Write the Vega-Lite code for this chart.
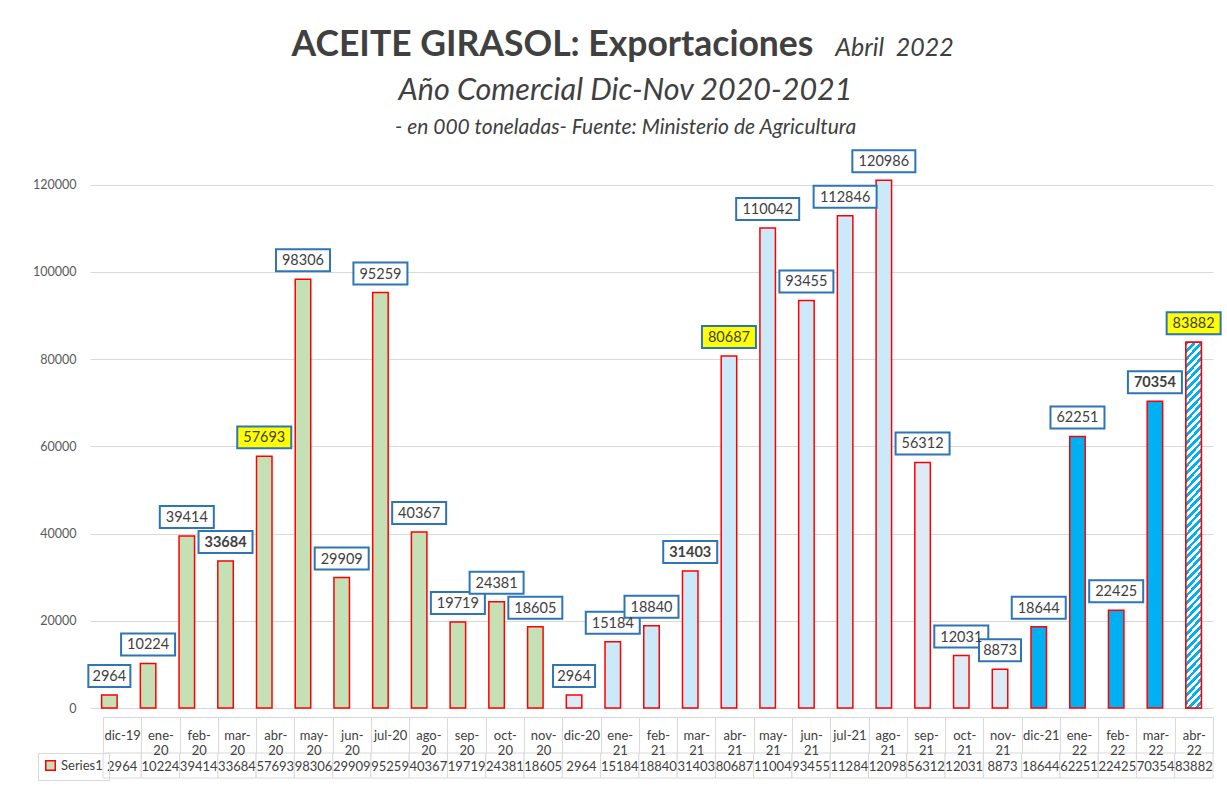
{
"$schema": "https://vega.github.io/schema/vega-lite/v6.json",
"width": 1123,
"height": 567,
"autosize": "none",
"padding": {"left": 90, "top": 141, "right": 14, "bottom": 85},
"background": "white",
"config": {"view": {"stroke": null}, "font": "Lato"},
"title": {
  "text": "Año Comercial Dic-Nov 2020-2021",
  "subtitle": "\u00a0\u00a0\u00a0\u00a0\u00a0\u00a0\u00a0\u00a0- en 000 toneladas- Fuente: Ministerio de Agricultura",
  "anchor": "middle", "frame": "group", "dx": -26, "offset": -111,
  "font": "Lato", "fontSize": 30.5, "fontStyle": "italic", "fontWeight": "normal", "color": "#404040",
  "subtitleFont": "Lato", "subtitleFontSize": 21, "subtitleFontStyle": "italic", "subtitleColor": "#404040", "subtitlePadding": 11
},
"data": {"values": [
  {"mes": "dic-19", "valor": 2964, "grupo": "g1"},
  {"mes": "ene-20", "valor": 10224, "grupo": "g1"},
  {"mes": "feb-20", "valor": 39414, "grupo": "g1"},
  {"mes": "mar-20", "valor": 33684, "grupo": "g1"},
  {"mes": "abr-20", "valor": 57693, "grupo": "g1"},
  {"mes": "may-20", "valor": 98306, "grupo": "g1"},
  {"mes": "jun-20", "valor": 29909, "grupo": "g1"},
  {"mes": "jul-20", "valor": 95259, "grupo": "g1"},
  {"mes": "ago-20", "valor": 40367, "grupo": "g1"},
  {"mes": "sep-20", "valor": 19719, "grupo": "g1"},
  {"mes": "oct-20", "valor": 24381, "grupo": "g1"},
  {"mes": "nov-20", "valor": 18605, "grupo": "g1"},
  {"mes": "dic-20", "valor": 2964, "grupo": "g2"},
  {"mes": "ene-21", "valor": 15184, "grupo": "g3"},
  {"mes": "feb-21", "valor": 18840, "grupo": "g3"},
  {"mes": "mar-21", "valor": 31403, "grupo": "g3"},
  {"mes": "abr-21", "valor": 80687, "grupo": "g3"},
  {"mes": "may-21", "valor": 110042, "grupo": "g3"},
  {"mes": "jun-21", "valor": 93455, "grupo": "g3"},
  {"mes": "jul-21", "valor": 112846, "grupo": "g3"},
  {"mes": "ago-21", "valor": 120986, "grupo": "g3"},
  {"mes": "sep-21", "valor": 56312, "grupo": "g2"},
  {"mes": "oct-21", "valor": 12031, "grupo": "g2"},
  {"mes": "nov-21", "valor": 8873, "grupo": "g2"},
  {"mes": "dic-21", "valor": 18644, "grupo": "g4"},
  {"mes": "ene-22", "valor": 62251, "grupo": "g4"},
  {"mes": "feb-22", "valor": 22425, "grupo": "g4"},
  {"mes": "mar-22", "valor": 70354, "grupo": "g4"},
  {"mes": "abr-22", "valor": 83882, "grupo": "g5"}
]},
"layer": [
  {
    "encoding": {
      "x": {"field": "mes", "type": "nominal",
        "scale": {"domain": ["dic-19","ene-20","feb-20","mar-20","abr-20","may-20","jun-20","jul-20","ago-20","sep-20","oct-20","nov-20","dic-20","ene-21","feb-21","mar-21","abr-21","may-21","jun-21","jul-21","ago-21","sep-21","oct-21","nov-21","dic-21","ene-22","feb-22","mar-22","abr-22"], "paddingInner": 0, "paddingOuter": 0},
        "axis": null},
      "y": {"field": "valor", "type": "quantitative",
        "scale": {"domain": [0, 130000], "nice": false},
        "axis": {"values": [0, 20000, 40000, 60000, 80000, 100000, 120000], "format": "d", "grid": true, "gridColor": "#D9D9D9", "gridWidth": 1,
          "domain": false, "ticks": false, "labelFont": "Lato", "labelFontSize": 12.5, "labelColor": "#595959", "labelPadding": 14,
          "title": "ACEITE GIRASOL: Exportaciones", "titleAngle": 0, "titleX": 462, "titleY": -86, "titleAlign": "center", "titleBaseline": "alphabetic",
          "titleFont": "Lato", "titleFontSize": 35.5, "titleFontWeight": "bold", "titleColor": "#404040"}}
    },
    "layer": [
      {
        "mark": {"type": "bar", "width": {"band": 0.4}, "strokeWidth": 1.5},
        "encoding": {
          "fill": {"field": "grupo", "type": "nominal",
            "scale": {"domain": ["g1","g2","g3","g4","g5"], "range": ["#C5E0B4","#DEEBF7","#CCE9FA","#00B0F0","#FFFFFF"]},
            "legend": null},
          "stroke": {"datum": "Series1", "type": "nominal",
            "scale": {"domain": ["Series1"], "range": ["#FF0000"]},
            "legend": {"orient": "none", "legendX": -52, "legendY": 612, "title": null, "symbolType": "square", "symbolSize": 90,
              "symbolStrokeWidth": 1.5, "symbolFillColor": "#C5E0B4", "labelFont": "Lato", "labelFontSize": 13, "labelColor": "#404040",
              "labelOffset": 4, "padding": 6, "strokeColor": "#D9D9D9",
              "encode": {"symbols": {"update": {"fill": {"value": "#C5E0B4"}, "stroke": {"value": "#FF0000"}, "strokeWidth": {"value": 1.5}}}}}}
        }
      },
      {
        "transform": [{"filter": "datum.grupo == 'g5'"}],
        "mark": {"type": "bar", "width": {"band": 0.4}, "stroke": "#FF0000", "strokeWidth": 1.5,
          "fill": {"gradient": "linear", "x1": 0, "y1": 0, "x2": 0.0465, "y2": 1.0426, "stops": [
            {"offset":0,"color":"#00B0F0"},{"offset":0.01,"color":"#00B0F0"},{"offset":0.01,"color":"#FFFFFF"},{"offset":0.02,"color":"#FFFFFF"},
            {"offset":0.02,"color":"#00B0F0"},{"offset":0.03,"color":"#00B0F0"},{"offset":0.03,"color":"#FFFFFF"},{"offset":0.04,"color":"#FFFFFF"},
            {"offset":0.04,"color":"#00B0F0"},{"offset":0.05,"color":"#00B0F0"},{"offset":0.05,"color":"#FFFFFF"},{"offset":0.06,"color":"#FFFFFF"},
            {"offset":0.06,"color":"#00B0F0"},{"offset":0.07,"color":"#00B0F0"},{"offset":0.07,"color":"#FFFFFF"},{"offset":0.08,"color":"#FFFFFF"},
            {"offset":0.08,"color":"#00B0F0"},{"offset":0.09,"color":"#00B0F0"},{"offset":0.09,"color":"#FFFFFF"},{"offset":0.10,"color":"#FFFFFF"},
            {"offset":0.10,"color":"#00B0F0"},{"offset":0.11,"color":"#00B0F0"},{"offset":0.11,"color":"#FFFFFF"},{"offset":0.12,"color":"#FFFFFF"},
            {"offset":0.12,"color":"#00B0F0"},{"offset":0.13,"color":"#00B0F0"},{"offset":0.13,"color":"#FFFFFF"},{"offset":0.14,"color":"#FFFFFF"},
            {"offset":0.14,"color":"#00B0F0"},{"offset":0.15,"color":"#00B0F0"},{"offset":0.15,"color":"#FFFFFF"},{"offset":0.16,"color":"#FFFFFF"},
            {"offset":0.16,"color":"#00B0F0"},{"offset":0.17,"color":"#00B0F0"},{"offset":0.17,"color":"#FFFFFF"},{"offset":0.18,"color":"#FFFFFF"},
            {"offset":0.18,"color":"#00B0F0"},{"offset":0.19,"color":"#00B0F0"},{"offset":0.19,"color":"#FFFFFF"},{"offset":0.20,"color":"#FFFFFF"},
            {"offset":0.20,"color":"#00B0F0"},{"offset":0.21,"color":"#00B0F0"},{"offset":0.21,"color":"#FFFFFF"},{"offset":0.22,"color":"#FFFFFF"},
            {"offset":0.22,"color":"#00B0F0"},{"offset":0.23,"color":"#00B0F0"},{"offset":0.23,"color":"#FFFFFF"},{"offset":0.24,"color":"#FFFFFF"},
            {"offset":0.24,"color":"#00B0F0"},{"offset":0.25,"color":"#00B0F0"},{"offset":0.25,"color":"#FFFFFF"},{"offset":0.26,"color":"#FFFFFF"},
            {"offset":0.26,"color":"#00B0F0"},{"offset":0.27,"color":"#00B0F0"},{"offset":0.27,"color":"#FFFFFF"},{"offset":0.28,"color":"#FFFFFF"},
            {"offset":0.28,"color":"#00B0F0"},{"offset":0.29,"color":"#00B0F0"},{"offset":0.29,"color":"#FFFFFF"},{"offset":0.30,"color":"#FFFFFF"},
            {"offset":0.30,"color":"#00B0F0"},{"offset":0.31,"color":"#00B0F0"},{"offset":0.31,"color":"#FFFFFF"},{"offset":0.32,"color":"#FFFFFF"},
            {"offset":0.32,"color":"#00B0F0"},{"offset":0.33,"color":"#00B0F0"},{"offset":0.33,"color":"#FFFFFF"},{"offset":0.34,"color":"#FFFFFF"},
            {"offset":0.34,"color":"#00B0F0"},{"offset":0.35,"color":"#00B0F0"},{"offset":0.35,"color":"#FFFFFF"},{"offset":0.36,"color":"#FFFFFF"},
            {"offset":0.36,"color":"#00B0F0"},{"offset":0.37,"color":"#00B0F0"},{"offset":0.37,"color":"#FFFFFF"},{"offset":0.38,"color":"#FFFFFF"},
            {"offset":0.38,"color":"#00B0F0"},{"offset":0.39,"color":"#00B0F0"},{"offset":0.39,"color":"#FFFFFF"},{"offset":0.40,"color":"#FFFFFF"},
            {"offset":0.40,"color":"#00B0F0"},{"offset":0.41,"color":"#00B0F0"},{"offset":0.41,"color":"#FFFFFF"},{"offset":0.42,"color":"#FFFFFF"},
            {"offset":0.42,"color":"#00B0F0"},{"offset":0.43,"color":"#00B0F0"},{"offset":0.43,"color":"#FFFFFF"},{"offset":0.44,"color":"#FFFFFF"},
            {"offset":0.44,"color":"#00B0F0"},{"offset":0.45,"color":"#00B0F0"},{"offset":0.45,"color":"#FFFFFF"},{"offset":0.46,"color":"#FFFFFF"},
            {"offset":0.46,"color":"#00B0F0"},{"offset":0.47,"color":"#00B0F0"},{"offset":0.47,"color":"#FFFFFF"},{"offset":0.48,"color":"#FFFFFF"},
            {"offset":0.48,"color":"#00B0F0"},{"offset":0.49,"color":"#00B0F0"},{"offset":0.49,"color":"#FFFFFF"},{"offset":0.50,"color":"#FFFFFF"},
            {"offset":0.50,"color":"#00B0F0"},{"offset":0.51,"color":"#00B0F0"},{"offset":0.51,"color":"#FFFFFF"},{"offset":0.52,"color":"#FFFFFF"},
            {"offset":0.52,"color":"#00B0F0"},{"offset":0.53,"color":"#00B0F0"},{"offset":0.53,"color":"#FFFFFF"},{"offset":0.54,"color":"#FFFFFF"},
            {"offset":0.54,"color":"#00B0F0"},{"offset":0.55,"color":"#00B0F0"},{"offset":0.55,"color":"#FFFFFF"},{"offset":0.56,"color":"#FFFFFF"},
            {"offset":0.56,"color":"#00B0F0"},{"offset":0.57,"color":"#00B0F0"},{"offset":0.57,"color":"#FFFFFF"},{"offset":0.58,"color":"#FFFFFF"},
            {"offset":0.58,"color":"#00B0F0"},{"offset":0.59,"color":"#00B0F0"},{"offset":0.59,"color":"#FFFFFF"},{"offset":0.60,"color":"#FFFFFF"},
            {"offset":0.60,"color":"#00B0F0"},{"offset":0.61,"color":"#00B0F0"},{"offset":0.61,"color":"#FFFFFF"},{"offset":0.62,"color":"#FFFFFF"},
            {"offset":0.62,"color":"#00B0F0"},{"offset":0.63,"color":"#00B0F0"},{"offset":0.63,"color":"#FFFFFF"},{"offset":0.64,"color":"#FFFFFF"},
            {"offset":0.64,"color":"#00B0F0"},{"offset":0.65,"color":"#00B0F0"},{"offset":0.65,"color":"#FFFFFF"},{"offset":0.66,"color":"#FFFFFF"},
            {"offset":0.66,"color":"#00B0F0"},{"offset":0.67,"color":"#00B0F0"},{"offset":0.67,"color":"#FFFFFF"},{"offset":0.68,"color":"#FFFFFF"},
            {"offset":0.68,"color":"#00B0F0"},{"offset":0.69,"color":"#00B0F0"},{"offset":0.69,"color":"#FFFFFF"},{"offset":0.70,"color":"#FFFFFF"},
            {"offset":0.70,"color":"#00B0F0"},{"offset":0.71,"color":"#00B0F0"},{"offset":0.71,"color":"#FFFFFF"},{"offset":0.72,"color":"#FFFFFF"},
            {"offset":0.72,"color":"#00B0F0"},{"offset":0.73,"color":"#00B0F0"},{"offset":0.73,"color":"#FFFFFF"},{"offset":0.74,"color":"#FFFFFF"},
            {"offset":0.74,"color":"#00B0F0"},{"offset":0.75,"color":"#00B0F0"},{"offset":0.75,"color":"#FFFFFF"},{"offset":0.76,"color":"#FFFFFF"},
            {"offset":0.76,"color":"#00B0F0"},{"offset":0.77,"color":"#00B0F0"},{"offset":0.77,"color":"#FFFFFF"},{"offset":0.78,"color":"#FFFFFF"},
            {"offset":0.78,"color":"#00B0F0"},{"offset":0.79,"color":"#00B0F0"},{"offset":0.79,"color":"#FFFFFF"},{"offset":0.80,"color":"#FFFFFF"},
            {"offset":0.80,"color":"#00B0F0"},{"offset":0.81,"color":"#00B0F0"},{"offset":0.81,"color":"#FFFFFF"},{"offset":0.82,"color":"#FFFFFF"},
            {"offset":0.82,"color":"#00B0F0"},{"offset":0.83,"color":"#00B0F0"},{"offset":0.83,"color":"#FFFFFF"},{"offset":0.84,"color":"#FFFFFF"},
            {"offset":0.84,"color":"#00B0F0"},{"offset":0.85,"color":"#00B0F0"},{"offset":0.85,"color":"#FFFFFF"},{"offset":0.86,"color":"#FFFFFF"},
            {"offset":0.86,"color":"#00B0F0"},{"offset":0.87,"color":"#00B0F0"},{"offset":0.87,"color":"#FFFFFF"},{"offset":0.88,"color":"#FFFFFF"},
            {"offset":0.88,"color":"#00B0F0"},{"offset":0.89,"color":"#00B0F0"},{"offset":0.89,"color":"#FFFFFF"},{"offset":0.90,"color":"#FFFFFF"},
            {"offset":0.90,"color":"#00B0F0"},{"offset":0.91,"color":"#00B0F0"},{"offset":0.91,"color":"#FFFFFF"},{"offset":0.92,"color":"#FFFFFF"},
            {"offset":0.92,"color":"#00B0F0"},{"offset":0.93,"color":"#00B0F0"},{"offset":0.93,"color":"#FFFFFF"},{"offset":0.94,"color":"#FFFFFF"},
            {"offset":0.94,"color":"#00B0F0"},{"offset":0.95,"color":"#00B0F0"},{"offset":0.95,"color":"#FFFFFF"},{"offset":0.96,"color":"#FFFFFF"},
            {"offset":0.96,"color":"#00B0F0"},{"offset":0.97,"color":"#00B0F0"},{"offset":0.97,"color":"#FFFFFF"},{"offset":0.98,"color":"#FFFFFF"},
            {"offset":0.98,"color":"#00B0F0"},{"offset":0.99,"color":"#00B0F0"},{"offset":0.99,"color":"#FFFFFF"},{"offset":1,"color":"#FFFFFF"}
          ]}}
      },
      {
        "mark": {"type": "point", "filled": true, "opacity": 1, "stroke": "#2E75B6", "strokeWidth": 2, "strokeOpacity": 1, "yOffset": -19},
        "encoding": {
          "fill": {"condition": {"test": "slice(datum.mes,0,3) == 'abr'", "value": "#FFFF00"}, "value": "#FFFFFF"},
          "shape": {"condition": [
              {"test": "datum.valor >= 100000", "value": "M-1,-0.349L1,-0.349L1,0.349L-1,0.349Z"},
              {"test": "datum.valor < 10000", "value": "M-1,-0.524L1,-0.524L1,0.524L-1,0.524Z"}],
            "value": "M-1,-0.407L1,-0.407L1,0.407L-1,0.407Z"},
          "size": {"condition": [
              {"test": "datum.valor >= 100000", "value": 3969},
              {"test": "datum.valor < 10000", "value": 1764}],
            "value": 2916}
        }
      },
      {
        "transform": [{"filter": "slice(datum.mes,0,3) != 'mar'"}],
        "mark": {"type": "text", "yOffset": -19, "dy": 1, "baseline": "middle", "font": "Lato", "fontSize": 14.5, "fontWeight": "normal", "fill": "#404040"},
        "encoding": {"text": {"field": "valor", "type": "quantitative", "format": "d"}}
      },
      {
        "transform": [{"filter": "slice(datum.mes,0,3) == 'mar'"}],
        "mark": {"type": "text", "yOffset": -19, "dy": 1, "baseline": "middle", "font": "Lato", "fontSize": 14.5, "fontWeight": "bold", "fill": "#404040"},
        "encoding": {"text": {"field": "valor", "type": "quantitative", "format": "d"}}
      }
    ]
  },
  {
    "encoding": {
      "x": {"field": "mes", "type": "nominal",
        "scale": {"domain": ["dic-19","ene-20","feb-20","mar-20","abr-20","may-20","jun-20","jul-20","ago-20","sep-20","oct-20","nov-20","dic-20","ene-21","feb-21","mar-21","abr-21","may-21","jun-21","jul-21","ago-21","sep-21","oct-21","nov-21","dic-21","ene-22","feb-22","mar-22","abr-22"], "range": [13, 1123], "paddingInner": 0, "paddingOuter": 0},
        "axis": {"orient": "bottom", "offset": 9, "domain": true, "domainColor": "#D9D9D9", "domainWidth": 1,
          "ticks": true, "tickBand": "extent", "tickSize": 36, "tickColor": "#D9D9D9", "tickWidth": 1,
          "labelAngle": 0, "labelFont": "Lato", "labelFontSize": 13, "labelColor": "#404040", "labelPadding": -18, "labelBaseline": "middle", "labelLineHeight": 15,
          "labelExpr": "(slice(datum.label,0,3) == 'dic' || slice(datum.label,0,3) == 'jul') ? datum.label : [slice(datum.label,0,4), slice(datum.label,4)]",
          "title": "Abril\u00a0\u00a02022", "titleAngle": 0, "titleX": 804, "titleY": -662, "titleAlign": "center", "titleBaseline": "alphabetic",
          "titleFont": "Lato", "titleFontSize": 25, "titleFontStyle": "italic", "titleFontWeight": "normal", "titleColor": "#404040"}},
      "y": {"datum": "Series1", "type": "nominal",
        "scale": {"domain": ["Series1"], "range": [612, 637], "paddingInner": 0, "paddingOuter": 0},
        "axis": null}
    },
    "layer": [
      {"mark": {"type": "rect", "fill": "#FFFFFF", "stroke": "#D9D9D9", "strokeWidth": 1}},
      {"mark": {"type": "text", "font": "Lato", "fontSize": 13, "fill": "#404040", "baseline": "middle", "dy": 1, "limit": 38.3, "ellipsis": "\u200b"},
       "encoding": {"text": {"field": "valor", "type": "quantitative", "format": "d"}}}
    ]
  }
],
"resolve": {"scale": {"x": "independent", "y": "independent"}, "axis": {"x": "independent", "y": "independent"}}
}
